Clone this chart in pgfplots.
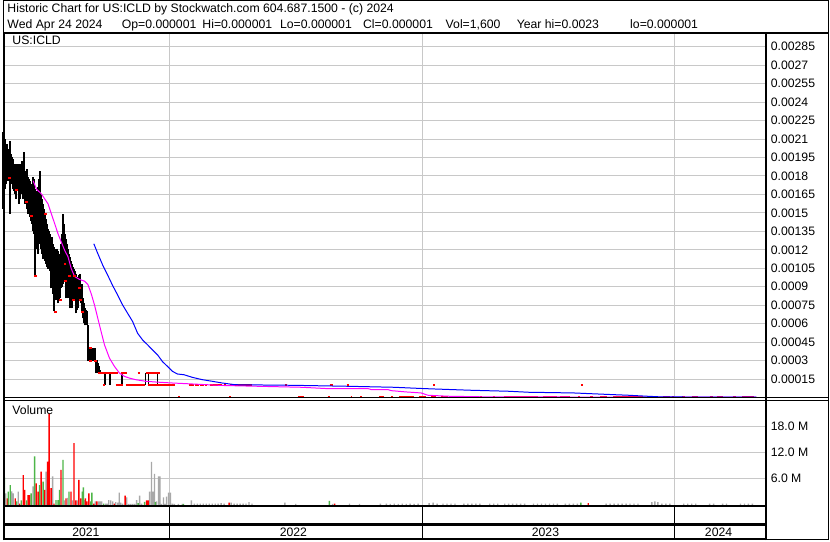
\documentclass[border=0pt]{standalone}
\usepackage{pgfplots}
\pgfplotsset{compat=1.18}
\usepackage{fontspec}
\setmainfont{Liberation Sans}
\definecolor{gridc}{RGB}{200,200,200}
\definecolor{vgreen}{RGB}{77,182,72}
\definecolor{vgray}{RGB}{168,168,168}
\definecolor{mafast}{RGB}{255,0,255}
\definecolor{maslow}{RGB}{0,0,255}
\definecolor{pred}{RGB}{255,0,0}
\newcommand{\sw}{\fontsize{12.3}{14}\selectfont}
\begin{document}
\begin{tikzpicture}
\fill[white] (0pt,0pt) rectangle (830pt,543pt);
% ---------------- price panel ----------------
\begin{axis}[at={(0pt,143.4pt)}, anchor=south west, scale only axis,
  width=766pt, height=366.6pt,
  xmin=0, xmax=766, ymin=0, ymax=0.002963,
  axis line style={draw=none}, major tick length=0pt,
  xtick={167,421,674.5}, xticklabels={},
  xmajorgrids, ymajorgrids, grid style={gridc, line width=1pt},
  ytick={0.00015,0.0003,0.00045,0.0006,0.00075,0.0009,0.00105,0.0012,0.00135,0.0015,0.00165,0.0018,0.00195,0.0021,0.00225,0.0024,0.00255,0.0027,0.00285},
  yticklabels={0.00015,0.0003,0.00045,0.0006,0.00075,0.0009,0.00105,0.0012,0.00135,0.0015,0.00165,0.0018,0.00195,0.0021,0.00225,0.0024,0.00255,0.0027,0.00285},
  scaled y ticks=false,
  yticklabel pos=right,
  yticklabel style={anchor=west, font=\sw, xshift=2pt},
  clip=false]
% high-low bars
\addplot[draw=none, mark=none, error bars/.cd, y dir=plus, y explicit,
  error bar style={draw=black, line width=1.7pt}, error mark=none]
  table[x=x, y=lo, y error expr=\thisrow{hi}-\thisrow{lo}] {
x lo hi
0 0.001532 0.002155
1 0.001654 0.002139
2 0.001694 0.002098
3 0.001734 0.002017
4 0.001775 0.002058
5 0.001759 0.002017
6 0.001775 0.001977
7 0.001492 0.002082
8 0.001775 0.001977
9 0.001734 0.001953
10 0.001694 0.001936
11 0.001678 0.001896
12 0.001654 0.001872
13 0.001613 0.001896
14 0.001694 0.001896
15 0.001678 0.001872
16 0.001573 0.001896
17 0.001613 0.001856
18 0.001654 0.001896
19 0.001694 0.001920
20 0.001613 0.001896
21 0.001654 0.001993
22 0.001573 0.001839
23 0.001589 0.001815
24 0.001532 0.001856
25 0.001492 0.001791
26 0.001516 0.001775
27 0.001468 0.001759
28 0.001436 0.001734
29 0.001411 0.001710
30 0.001355 0.001791
31 0.001330 0.001775
32 0.000991 0.001694
33 0.001249 0.001678
34 0.001209 0.001654
35 0.001169 0.001710
36 0.001249 0.001775
37 0.001290 0.001839
38 0.001209 0.001654
39 0.001169 0.001613
40 0.001128 0.001573
41 0.001209 0.001532
42 0.001112 0.001492
43 0.001088 0.001452
44 0.001064 0.001411
45 0.001047 0.001371
46 0.001088 0.001355
47 0.001031 0.001330
48 0.000886 0.001290
49 0.000902 0.001306
50 0.000845 0.001249
51 0.000700 0.001225
52 0.000805 0.001209
53 0.000789 0.001169
54 0.000845 0.001209
55 0.000765 0.001193
56 0.000789 0.001144
57 0.000805 0.001169
58 0.000886 0.001249
59 0.000902 0.001330
60 0.000926 0.001492
61 0.001047 0.001411
62 0.000950 0.001330
63 0.000805 0.001290
64 0.000845 0.001249
65 0.000805 0.001209
66 0.000886 0.001169
67 0.000724 0.001144
68 0.000765 0.001112
69 0.000724 0.001088
70 0.000789 0.001064
71 0.000789 0.001047
72 0.000805 0.001031
73 0.000684 0.001007
74 0.000708 0.000983
75 0.000724 0.000967
76 0.000805 0.000999
77 0.000789 0.001007
78 0.000765 0.000926
79 0.000692 0.000926
80 0.000643 0.000805
81 0.000603 0.000765
82 0.000587 0.000724
83 0.000587 0.000708
84 0.000587 0.000700
85 0.000296 0.000587
87 0.000296 0.000401
88 0.000296 0.000401
89 0.000296 0.000401
90 0.000296 0.000401
91 0.000296 0.000360
92 0.000296 0.000401
93 0.000199 0.000304
94 0.000199 0.000304
95 0.000199 0.000280
96 0.000199 0.000255
97 0.000191 0.000223
102 0.0001 0.0002
107 0.0001 0.0002
119 0.0001 0.0002
143 0.0001 0.0002
146 0.0001 0.0002
155 0.0001 0.0002
};
% red close ticks
\addplot[only marks, mark=-, mark size=1.5pt, mark options={pred, line width=2pt}] table {
x p
6 0.001782
13 0.001686
23 0.001589
28 0.001476
32 0.000991
42 0.001492
52 0.000692
57 0.000789
62 0.001088
63 0.000950
67 0.000991
71 0.000789
72 0.000991
77 0.000886
78 0.000789
80 0.000692
88 0.000296
88 0.000401
93 0.000296
};
% red flat-price runs (start, end, price)
\addplot[draw=none, mark=none, error bars/.cd, x dir=plus, x explicit,
  error bar style={draw=pred, line width=2pt}, error mark=none]
  table[x=a, y=p, x error expr=\thisrow{b}-\thisrow{a}] {
a b p
95 115 0.0002
118 124 0.0002
135 137 0.0002
143 157 0.0002
100 102 0.0001
113 120 0.0001
123 142 0.0001
145 173 0.0001
187 192 0.0001
193 197 0.0001
198 202 0.0001
203 205 0.0001
208 220 0.0001
222 224 0.0001
228 250 0.0001
283 285 0.0001
328 331 0.0001
345 347 0.0001
432 434 0.0001
581 583 0.0001
176 178 0.000001
227 229 0.000001
296 302 0.000001
326 328 0.000001
349 351 0.000001
359 361 0.000001
378 383 0.000001
390 392 0.000001
398 413 0.000001
418 425 0.000001
430 435 0.000001
440 447 0.000001
450 455 0.000001
460 463 0.000001
468 472 0.000001
479 481 0.000001
492 494 0.000001
503 537 0.000001
543 557 0.000001
560 570 0.000001
578 580 0.000001
590 593 0.000001
600 607 0.000001
613 643 0.000001
647 650 0.000001
663 670 0.000001
672 674 0.000001
682 685 0.000001
692 698 0.000001
710 713 0.000001
717 723 0.000001
733 737 0.000001
743 755 0.000001
};
% short moving average
\addplot[mafast, line width=1pt] table {
x p
30 0.001761
33.3 0.001694
38.3 0.001654
41.7 0.001613
45 0.001573
48.3 0.001492
51.7 0.001411
55 0.001330
58.3 0.001263
61.7 0.001195
65 0.001144
68.3 0.001047
71.7 0.000983
76.7 0.000959
81.7 0.000945
85 0.000918
88.3 0.000845
91.7 0.000751
95 0.000643
98.3 0.000536
101.7 0.000428
106.7 0.000320
111.7 0.000253
116.7 0.000199
121.7 0.000172
126.7 0.000158
133 0.000145
143 0.000132
156.7 0.000124
170 0.000118
190 0.000110
220 0.000098
300 0.0000832
327 0.0000719
367 0.0000719
370 0.0000638
387 0.0000638
390 0.0000558
405 0.0000453
420 0.0000372
426.7 0.0000186
446.7 0.0000105
490 0.0000048
757 0.000003
};
% long moving average
\addplot[maslow, line width=1pt] table {
x p
91 0.001249
95 0.001169
100 0.001074
105 0.000993
110 0.000908
115 0.000832
120 0.000751
125 0.000684
130 0.000617
135 0.000522
140 0.000468
145 0.000428
150 0.000387
155 0.000347
160 0.000292
165 0.000253
170 0.000213
175 0.000191
181.7 0.000185
190 0.000164
200 0.000145
210 0.000132
220 0.000118
233 0.000104
290 0.0000994
347 0.0000913
393 0.0000832
420 0.0000735
433 0.0000695
470 0.000059
508 0.0000509
528 0.0000428
573 0.0000372
613 0.0000234
628 0.0000186
647 0.0000105
662 0.0000048
757 0.0000024
};
\end{axis}
% ---------------- volume panel ----------------
\begin{axis}[at={(0pt,35.5pt)}, anchor=south west, scale only axis,
  width=766pt, height=104.5pt,
  xmin=0, xmax=766, ymin=0, ymax=23.75,
  axis line style={draw=none}, major tick length=0pt,
  xtick={167,421,674.5}, xticklabels={},
  xmajorgrids, ymajorgrids, grid style={gridc, line width=1pt},
  ytick={6,12,18}, yticklabels={6.0 M,12.0 M,18.0 M},
  yticklabel pos=right,
  yticklabel style={anchor=west, font=\sw, xshift=2pt}]
\addplot[ybar, bar width=1.4, bar shift=0pt, fill=vgray, draw=none] table {
x v
2.5 2.6
8.5 3.1
10 2.6
15 3.0
30 4.2
43 7.6
49.5 6.5
61.5 1.0
64.5 1.6
69.5 1.0
74.5 1.0
82 1.1
92.5 0.8
96 0.8
97.5 0.8
99 0.8
103 0.3
104.5 0.3
106 1.1
108 1.0
110 0.8
113 0.6
115 0.5
116.5 2.8
118 0.5
120 0.3
124 1.7
126 0.2
128 0.2
130 0.2
132 0.2
134 1.1
137 2.1
139 0.3
147 3.0
149 9.8
150.5 3.0
152 7.1
154 0.8
156 6.5
157.5 6.5
159 0.2
161 1.7
162.5 0.2
164 1.9
166 2.8
168 2.8
170 0.3
172 0.2
176 0.2
180 0.2
189 1.0
192 0.3
195 0.3
198 0.3
201 0.3
204 0.3
207 0.3
210 0.3
213 0.3
216 0.3
219 0.4
222 0.3
229 0.5
232 0.3
235 0.3
238 0.3
241 0.3
244 0.3
247 0.6
250 0.3
283 0.5
294 0.2
331 0.2
348 0.3
358 0.2
379 0.3
385 0.3
389 0.2
393 0.3
397 0.2
401 0.3
405 0.2
409 0.3
413 0.2
417 0.3
428 0.4
432 0.5
436 0.3
442 0.3
446 0.3
450 0.3
454 0.3
463 0.3
467 0.3
471 0.3
475 0.3
479 0.3
489 0.3
493 0.3
497 0.3
504 0.3
508 0.3
512 0.3
516 0.3
520 0.3
524 0.3
533 0.3
537 0.3
541 0.3
545 0.3
549 0.3
553 0.3
557 0.3
565 0.3
569 0.3
573 0.3
577 0.3
606 0.3
610 0.3
614 0.3
618 0.3
622 0.3
626 0.3
630 0.3
634 0.3
638 0.3
652 0.6
655 0.8
658 0.6
662 0.3
666 0.3
670 0.3
684 0.3
688 0.3
692 0.3
696 0.3
710 0.3
714 0.3
723 0.3
727 0.3
741 0.3
745 0.3
749 0.3
753 0.3
};
\addplot[ybar, bar width=1.4, bar shift=0pt, fill=pred, draw=none] table {
x v
4 1.5
12 1.5
16.5 0.3
20 6.8
21.5 3.4
25 2.2
26.5 2.2
33 4.9
35 3.0
38 7.6
41.5 3.4
44.5 9.9
46 20.9
48 3.8
51 0.3
58 8.0
63 1.5
68 3.0
71 14.1
73 1.0
76 5.7
78 1.5
82.5 1.5
84 0.8
86 2.6
91 0.3
94 0.8
111.5 0.3
122.5 2.1
144 1.0
145.5 1.0
227 0.5
333 0.3
588 0.4
};
\addplot[ybar, bar width=1.4, bar shift=0pt, fill=vgreen, draw=none] table {
x v
1 6.3
5 3.0
7 4.5
13.5 0.8
18 1.0
23.5 1.0
28 2.6
31.5 11.1
36.5 4.5
40 5.3
53 1.1
55 1.1
56.5 3.4
60 10.3
66 3.0
79.5 3.0
80.5 4.0
88 0.8
89 2.8
101 0.3
135.5 0.4
142 0.7
152.7 0.6
181 0.2
327.8 0.9
580.6 0.5
};
\end{axis}
% ---------------- frame ----------------
\draw[line width=1pt] (0.5pt,0.5pt) rectangle (829.5pt,542.5pt);
\draw[line width=2pt] (1pt,0pt)--(1pt,510pt);
\draw[line width=2pt] (0pt,510pt)--(830pt,510pt);
\draw[line width=2pt] (766.5pt,0pt)--(766.5pt,510pt);
\draw[line width=1pt] (0pt,143pt)--(830pt,143pt);
\draw[line width=1pt] (0pt,140.7pt)--(830pt,140.7pt);
\draw[line width=2.5pt] (0pt,34.25pt)--(766.5pt,34.25pt);
\draw[line width=2.5pt] (0pt,16pt)--(766.5pt,16pt);
\draw[line width=2pt] (0pt,1pt)--(766.5pt,1pt);
\foreach \xx in {167,421,674.5} \draw[line width=1pt] (\xx pt,1pt)--(\xx pt,34pt);
% ---------------- texts ----------------
\node[anchor=base west, font=\sw, inner sep=0] at (4pt,530pt) {Historic Chart for US:ICLD by Stockwatch.com 604.687.1500 - (c) 2024};
\node[anchor=base west, font=\sw, inner sep=0] at (4pt,514pt) {Wed Apr 24 2024};
\node[anchor=base west, font=\sw, inner sep=0] at (119pt,514pt) {Op=0.000001};
\node[anchor=base west, font=\sw, inner sep=0] at (200pt,514pt) {Hi=0.000001};
\node[anchor=base west, font=\sw, inner sep=0] at (278pt,514pt) {Lo=0.000001};
\node[anchor=base west, font=\sw, inner sep=0] at (361.5pt,514pt) {Cl=0.000001};
\node[anchor=base west, font=\sw, inner sep=0] at (444.5pt,514pt) {Vol=1,600};
\node[anchor=base west, font=\sw, inner sep=0] at (516pt,514pt) {Year hi=0.0023};
\node[anchor=base west, font=\sw, inner sep=0] at (630pt,514pt) {lo=0.000001};
\node[anchor=base west, font=\sw, inner sep=0] at (9pt,498pt) {US:ICLD};
\node[anchor=base west, font=\sw, inner sep=0] at (9pt,126pt) {Volume};
\node[anchor=base, font=\sw, inner sep=0] at (83pt,3.5pt) {2021};
\node[anchor=base, font=\sw, inner sep=0] at (291.6pt,3.5pt) {2022};
\node[anchor=base, font=\sw, inner sep=0] at (545pt,3.5pt) {2023};
\node[anchor=base, font=\sw, inner sep=0] at (719pt,3.5pt) {2024};
\end{tikzpicture}
\end{document}
